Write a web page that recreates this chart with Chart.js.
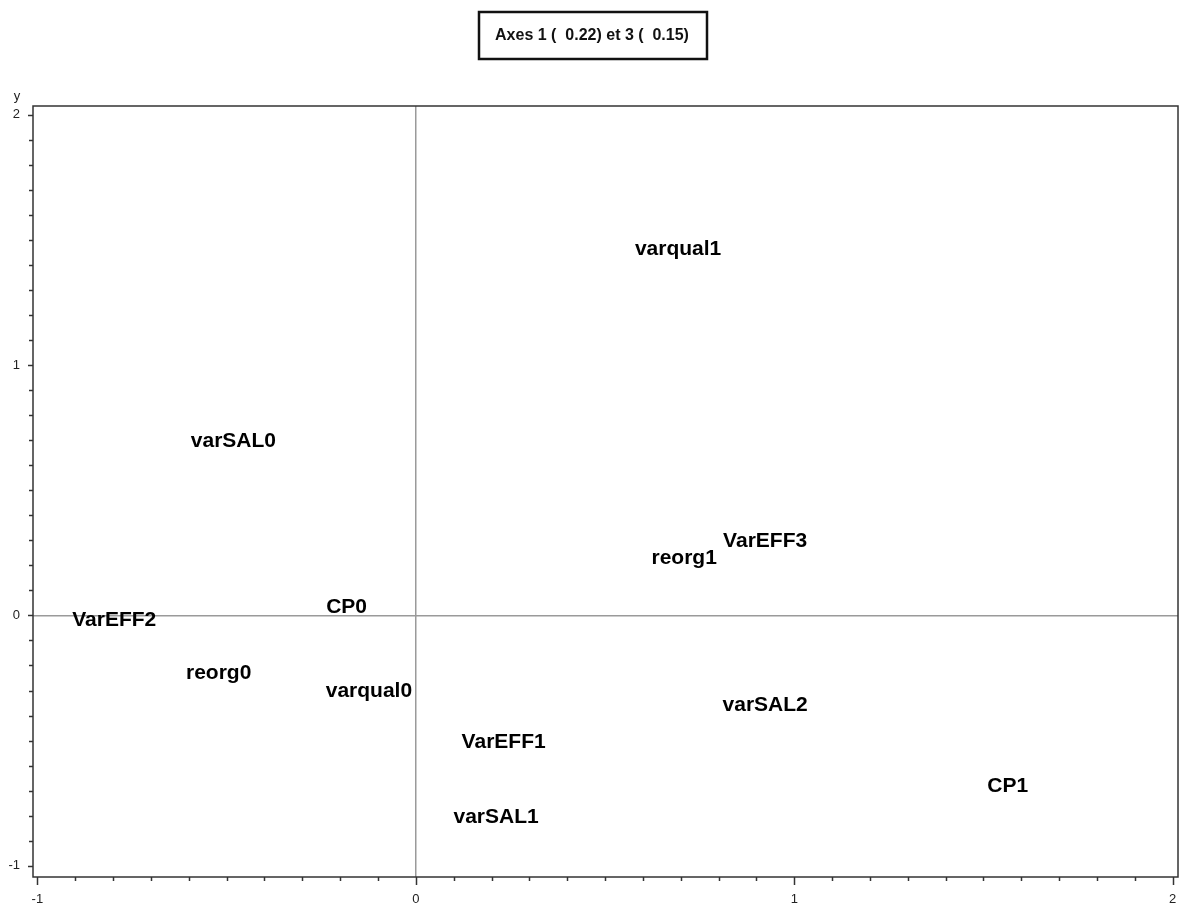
<!DOCTYPE html>
<html>
<head>
<meta charset="utf-8">
<title>Axes 1 et 3</title>
<script src="https://cdn.jsdelivr.net/npm/chart.js@4/dist/chart.umd.min.js"></script>
<style>
    html, body { margin: 0; padding: 0; background: #fff; }
    #wrap { position: relative; width: 1179px; height: 909px; }
    canvas { display: block; }
</style>
</head>
<body>
<div id="wrap"><canvas id="plot" width="1179" height="909"></canvas></div>
<script>
/* ── Data ── */
const labels  = ['varqual1', 'varSAL0', 'VarEFF3', 'reorg1', 'CP0', 'VarEFF2',
                 'reorg0', 'varqual0', 'varSAL2', 'VarEFF1', 'CP1', 'varSAL1'];
const axis1   = [0.693, -0.482, 0.923, 0.709, -0.183, -0.797,
                 -0.521, -0.124, 0.923, 0.232, 1.564, 0.212];
const axis3   = [1.465, 0.700, 0.301, 0.231, 0.035, -0.015,
                 -0.226, -0.298, -0.354, -0.502, -0.679, -0.804];

const xMajor  = [-1, 0, 1, 2];
const yMajor  = [-1, 0, 1, 2];
const minorStep = 0.1;

const titleText = 'Axes 1 (  0.22) et 3 (  0.15)';

/* ── Helpers ── */
function tickValues(major) {
    const out = [];
    const lo = major[0], hi = major[major.length - 1];
    const n = Math.round((hi - lo) / minorStep);
    for (let i = 0; i <= n; i++) out.push(+(lo + i * minorStep).toFixed(2));
    return out;
}
const isMajor = (v, major) => major.some(m => Math.abs(m - v) < 1e-6);

const tickFont = { family: "'Liberation Sans', Arial, sans-serif", size: 13 };

/* ── Plugin: frame, ticks, title box, point labels ── */
const decor = {
    id: 'decor',
    afterDraw(chart) {
        const { ctx, chartArea: a, scales } = chart;
        ctx.save();

        // tick marks
        ctx.strokeStyle = '#333';
        ctx.lineWidth = 1.5;
        tickValues(xMajor).forEach(v => {
            const px = Math.round(scales.x.getPixelForValue(v)) + 0.5;
            const len = isMajor(v, xMajor) ? 8 : 4;
            ctx.beginPath(); ctx.moveTo(px, a.bottom); ctx.lineTo(px, a.bottom + len); ctx.stroke();
        });
        tickValues(yMajor).forEach(v => {
            const py = Math.round(scales.y.getPixelForValue(v)) + 0.5;
            const len = isMajor(v, yMajor) ? 5 : 4;
            ctx.beginPath(); ctx.moveTo(a.left, py); ctx.lineTo(a.left - len, py); ctx.stroke();
        });

        // frame
        ctx.lineWidth = 1.5;
        ctx.strokeStyle = '#333';
        ctx.strokeRect(a.left, a.top, a.right - a.left, a.bottom - a.top);

        // axis name
        ctx.fillStyle = '#222';
        ctx.font = "13px 'Liberation Sans', Arial, sans-serif";
        ctx.textAlign = 'center';
        ctx.textBaseline = 'middle';
        ctx.fillText('y', 17, 96);

        // title box
        ctx.lineWidth = 2.5;
        ctx.strokeStyle = '#111';
        ctx.strokeRect(479, 12, 228, 47);
        ctx.font = "bold 16px 'Liberation Sans', Arial, sans-serif";
        ctx.fillStyle = '#111';
        ctx.fillText(titleText, 592, 36);

        // point labels
        const meta = chart.getDatasetMeta(0);
        ctx.font = "bold 21px 'Liberation Sans', Arial, sans-serif";
        ctx.fillStyle = '#000';
        ctx.textAlign = 'center';
        ctx.textBaseline = 'middle';
        meta.data.forEach((pt, i) => {
            ctx.fillText(labels[i], pt.x, pt.y + 1);
        });

        ctx.restore();
    }
};

/* ── Chart ── */
new Chart(document.getElementById('plot'), {
    type: 'scatter',
    data: {
        datasets: [{
            data: axis1.map((x, i) => ({ x, y: axis3[i] })),
            pointRadius: 0,
            pointHoverRadius: 0,
            showLine: false
        }]
    },
    options: {
        responsive: false,
        animation: false,
        layout: { padding: { top: 106, right: 1, left: 0, bottom: 0 } },
        plugins: { legend: { display: false }, tooltip: { enabled: false } },
        scales: {
            x: {
                type: 'linear',
                min: -1.0116, max: 2.014,
                afterBuildTicks: s => { s.ticks = tickValues(xMajor).map(value => ({ value })); },
                afterFit: s => { s.height = 32; s.paddingLeft = 0; s.paddingRight = 0; },
                border: { display: false },
                grid: {
                    drawTicks: false,
                    color: c => (c.tick && Math.abs(c.tick.value) < 1e-6) ? '#9a9a9a' : 'rgba(0,0,0,0)',
                    lineWidth: 1.5
                },
                ticks: {
                    autoSkip: false, maxRotation: 0, padding: 15,
                    color: '#222', font: tickFont,
                    callback: v => isMajor(v, xMajor) ? String(Math.round(v)) : ''
                }
            },
            y: {
                type: 'linear',
                min: -1.045, max: 2.035,
                afterBuildTicks: s => { s.ticks = tickValues(yMajor).map(value => ({ value })); },
                afterFit: s => { s.width = 33; s.paddingTop = 0; s.paddingBottom = 0; },
                border: { display: false },
                grid: {
                    drawTicks: false,
                    color: c => (c.tick && Math.abs(c.tick.value) < 1e-6) ? '#9a9a9a' : 'rgba(0,0,0,0)',
                    lineWidth: 1.5
                },
                ticks: {
                    autoSkip: false, padding: 13,
                    color: '#222', font: tickFont,
                    callback: v => isMajor(v, yMajor) ? String(Math.round(v)) : ''
                }
            }
        }
    },
    plugins: [decor]
});
</script>
</body>
</html>
